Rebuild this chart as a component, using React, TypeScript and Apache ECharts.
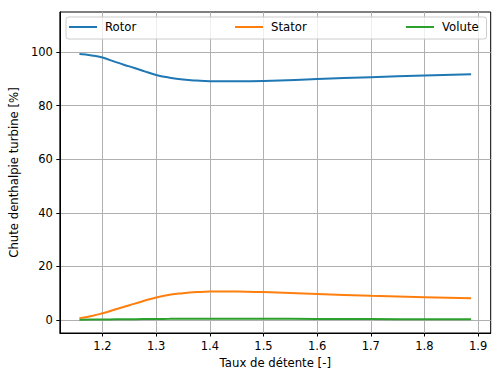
import React, { useEffect, useRef } from "react";
import * as echarts from "echarts";

const xValues = [1.157, 1.18, 1.2, 1.225, 1.25, 1.275, 1.3, 1.325, 1.35, 1.375, 1.4, 1.45, 1.5, 1.6, 1.7, 1.8, 1.887];
const rotor = [99.2, 98.7, 97.9, 96.2, 94.6, 93.0, 91.4, 90.4, 89.7, 89.3, 89.1, 89.1, 89.2, 89.9, 90.6, 91.2, 91.7];
const stator = [0.7, 1.5, 2.5, 4.0, 5.5, 7.0, 8.4, 9.4, 10.0, 10.4, 10.6, 10.6, 10.4, 9.7, 9.0, 8.5, 8.1];
const volute = [0.1, 0.15, 0.2, 0.25, 0.3, 0.35, 0.4, 0.42, 0.45, 0.48, 0.5, 0.5, 0.45, 0.4, 0.35, 0.3, 0.25];
const xTicks = [1.2, 1.3, 1.4, 1.5, 1.6, 1.7, 1.8, 1.9];
const yTicks = [0, 20, 40, 60, 80, 100];
const seriesNames = ["Rotor", "Stator", "Volute"];
const colors = ["#1f77b4", "#ff7f0e", "#2ca02c"];

const FONT = "DejaVu Sans";

export default function App() {
  const ref = useRef<HTMLDivElement>(null);
  useEffect(() => {
    if (!ref.current) return;
    const chart = echarts.init(ref.current, null, { renderer: "svg" });
    const allData = [rotor, stator, volute];
    const legendLeft = [69, 235, 406];
    chart.setOption({
      animation: false,
      backgroundColor: "#fff",
      textStyle: { fontFamily: FONT },
      grid: {
        left: 59,
        top: 12,
        right: 1.3,
        bottom: 43,
        show: true,
        borderColor: "#000",
        borderWidth: 1,
        backgroundColor: "transparent",
        containLabel: false,
      },
      xAxis: {
        type: "value",
        min: 1.1205,
        max: 1.9235,
        name: "Taux de détente [-]",
        nameLocation: "middle",
        nameGap: 22,
        nameTextStyle: { fontFamily: FONT, fontSize: 11.7, color: "#000" },
        axisLine: { show: true, onZero: false, lineStyle: { color: "#000", width: 1 } },
        axisTick: { show: true, length: 3.5, lineStyle: { color: "#000" }, customValues: xTicks },
        axisLabel: {
          fontFamily: FONT,
          fontSize: 11.5,
          color: "#000",
          margin: 7,
          customValues: xTicks,
          formatter: (v: number) => v.toFixed(1),
        },
        splitLine: { show: true, lineStyle: { color: "#b0b0b0", width: 1 } },
      },
      yAxis: {
        type: "value",
        min: -4.85,
        max: 114.9,
        name: "Chute denthalpie turbine [%]",
        nameLocation: "middle",
        nameGap: 36,
        nameTextStyle: { fontFamily: FONT, fontSize: 11.7, color: "#000" },
        axisLine: { show: true, onZero: false, lineStyle: { color: "#000", width: 1 } },
        axisTick: { show: true, length: 3.5, lineStyle: { color: "#000" }, customValues: yTicks },
        axisLabel: {
          fontFamily: FONT,
          fontSize: 11.5,
          color: "#000",
          margin: 7,
          customValues: yTicks,
        },
        splitLine: { show: true, lineStyle: { color: "#b0b0b0", width: 1 } },
      },
      legend: seriesNames.map((n, i) => ({
        data: [n],
        left: legendLeft[i],
        top: 21,
        padding: 0,
        z: 10,
        icon: "rect",
        itemWidth: 28,
        itemHeight: 2,
        itemGap: 0,
        textStyle: { fontFamily: FONT, fontSize: 11.7, color: "#000", padding: [0, 0, 0, 3] },
      })),
      graphic: [
        {
          type: "rect",
          z: 5,
          shape: { x: 66, y: 17, width: 420.5, height: 22, r: 2.5 },
          style: { fill: "rgba(255,255,255,0.8)", stroke: "#cccccc", lineWidth: 1 },
        },
      ],
      series: seriesNames.map((n, i) => ({
        name: n,
        type: "line",
        data: xValues.map((x, j) => [x, allData[i][j]]),
        showSymbol: false,
        smooth: 0.5,
        color: colors[i],
        lineStyle: { width: 2, color: colors[i] },
        itemStyle: { color: colors[i] },
      })),
    });
    return () => chart.dispose();
  }, []);
  return (
    <div
      ref={ref}
      style={{ position: "fixed", left: 0, top: 0, width: 492, height: 376 }}
    />
  );
}
